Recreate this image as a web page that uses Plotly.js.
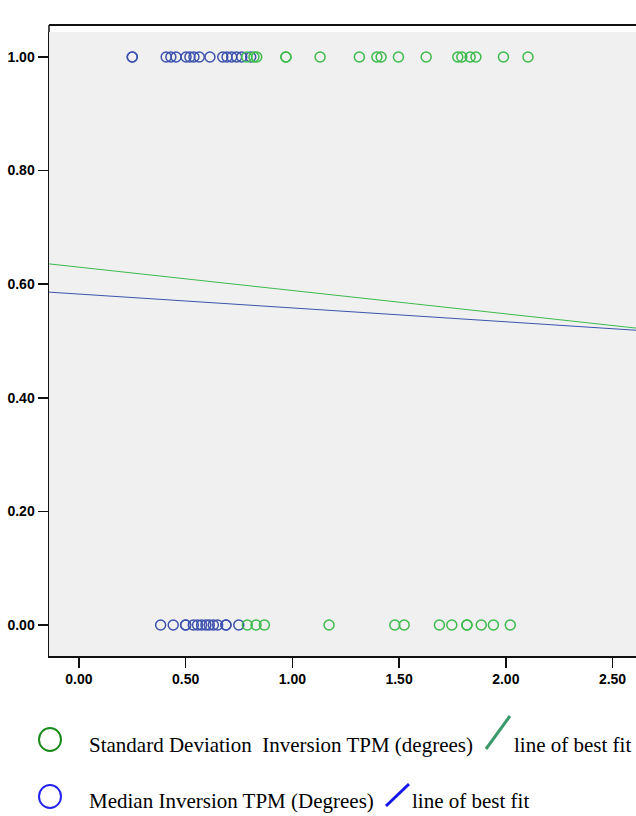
<!DOCTYPE html>
<html><head><meta charset="utf-8">
<script src="https://cdn.plot.ly/plotly-3.0.1.min.js"></script>
<style>html,body{margin:0;padding:0;background:#fff;}#chart{width:636px;height:816px;}</style>
</head><body><div id="chart"></div>
<script>
// Median Inversion TPM (Degrees) — outcome 1 and outcome 0
const medianTop = [0.25, 0.25, 0.409, 0.431, 0.455, 0.502, 0.520, 0.539, 0.564, 0.614, 0.674, 0.694, 0.716, 0.739, 0.763, 0.805];
const medianBottom = [0.383, 0.442, 0.500, 0.500, 0.536, 0.556, 0.575, 0.595, 0.611, 0.630, 0.650, 0.689, 0.689, 0.749];
// Standard Deviation Inversion TPM (degrees)
const sdTop = [0.786, 0.820, 0.833, 0.970, 0.970, 1.130, 1.314, 1.396, 1.416, 1.497, 1.627, 1.775, 1.794, 1.833, 1.860, 1.989, 2.104];
const sdBottom = [0.789, 0.830, 0.869, 1.172, 1.480, 1.524, 1.689, 1.747, 1.818, 1.818, 1.885, 1.942, 2.021];
// fit lines: [intercept, slope]
const sdFit = [0.630, -0.0411];
const medianFit = [0.5826, -0.0244];

const xRange = [-0.14, 2.61];
const yRange = [-0.0546, 1.044];
const yTicks = [0, 0.2, 0.4, 0.6, 0.8, 1.0];
const xTicks = [0, 0.5, 1.0, 1.5, 2.0, 2.5];

const cGreen = '#3dba4c', cBlue = '#3d52ad';
const ones = a => a.map(() => 1), zeros = a => a.map(() => 0);
const mk = c => ({symbol: 'circle-open', size: 10, color: c, line: {width: 1.5, color: c}});
const fitY = f => xRange.map(x => f[0] + f[1] * x);

const traces = [
  {x: xRange, y: fitY(sdFit), mode: 'lines', line: {color: cGreen, width: 1}, hoverinfo: 'skip'},
  {x: xRange, y: fitY(medianFit), mode: 'lines', line: {color: cBlue, width: 1}, hoverinfo: 'skip'},
  {x: medianTop.concat(medianBottom), y: ones(medianTop).concat(zeros(medianBottom)), mode: 'markers', marker: mk(cBlue), cliponaxis: false},
  {x: sdTop.concat(sdBottom), y: ones(sdTop).concat(zeros(sdBottom)), mode: 'markers', marker: mk(cGreen), cliponaxis: false}
];

const W = 587, H = 624, L = 49, T = 32;
const px = x => (x - L) / W, py = y => (T + H - y) / H;
const serif = {family: 'Liberation Serif, Times New Roman, serif', size: 21, color: '#000'};
const tickFont = {family: 'Liberation Sans, Arial, sans-serif', size: 14, color: '#000', weight: 'bold'};

const layout = {
  width: 636, height: 816,
  margin: {l: L, r: 0, t: T, b: 816 - T - H},
  paper_bgcolor: '#ffffff', plot_bgcolor: '#f0f0f0',
  showlegend: false,
  xaxis: {range: xRange, tickvals: xTicks, ticktext: xTicks.map(v => v.toFixed(2)),
    showgrid: false, zeroline: false, showline: true, linecolor: '#111', linewidth: 1.5,
    ticks: 'outside', ticklen: 10, tickwidth: 1.5, tickcolor: '#111', tickfont: tickFont},
  yaxis: {range: yRange, tickvals: yTicks, ticktext: yTicks.map(v => v.toFixed(2)),
    showgrid: false, zeroline: false, showline: true, linecolor: '#111', linewidth: 1.5,
    ticks: 'outside', ticklen: 10, tickwidth: 1.5, tickcolor: '#111', tickfont: tickFont},
  shapes: [
    // frame: top border above the grey panel and left border extension
    {type: 'line', xref: 'paper', yref: 'paper', x0: 0, x1: 1, y0: py(25), y1: py(25), line: {color: '#111', width: 2}},
    {type: 'line', xref: 'paper', yref: 'paper', x0: 0, x1: 0, y0: py(25), y1: 1, line: {color: '#111', width: 1.5}},
    {type: 'circle', xref: 'paper', yref: 'paper', x0: px(39), x1: px(61), y0: py(751), y1: py(728), line: {color: '#1a8a1a', width: 2}},
    {type: 'circle', xref: 'paper', yref: 'paper', x0: px(39), x1: px(61), y0: py(808), y1: py(785), line: {color: '#2424ee', width: 2}},
    {type: 'line', xref: 'paper', yref: 'paper', x0: px(486), x1: px(510), y0: py(749), y1: py(716), line: {color: '#3a9a6a', width: 3}},
    {type: 'line', xref: 'paper', yref: 'paper', x0: px(386), x1: px(409), y0: py(806), y1: py(784), line: {color: '#1515ee', width: 3}}
  ],
  annotations: [
    {xref: 'paper', yref: 'paper', x: px(87), y: py(745), xanchor: 'left', yanchor: 'middle', showarrow: false, text: 'Standard Deviation  Inversion TPM (degrees)', font: serif},
    {xref: 'paper', yref: 'paper', x: px(512), y: py(745), xanchor: 'left', yanchor: 'middle', showarrow: false, text: 'line of best fit', font: serif},
    {xref: 'paper', yref: 'paper', x: px(87), y: py(801), xanchor: 'left', yanchor: 'middle', showarrow: false, text: 'Median Inversion TPM (Degrees)', font: serif},
    {xref: 'paper', yref: 'paper', x: px(410), y: py(801), xanchor: 'left', yanchor: 'middle', showarrow: false, text: 'line of best fit', font: serif}
  ]
};
Plotly.newPlot('chart', traces, layout, {displayModeBar: false, staticPlot: true});
</script></body></html>
